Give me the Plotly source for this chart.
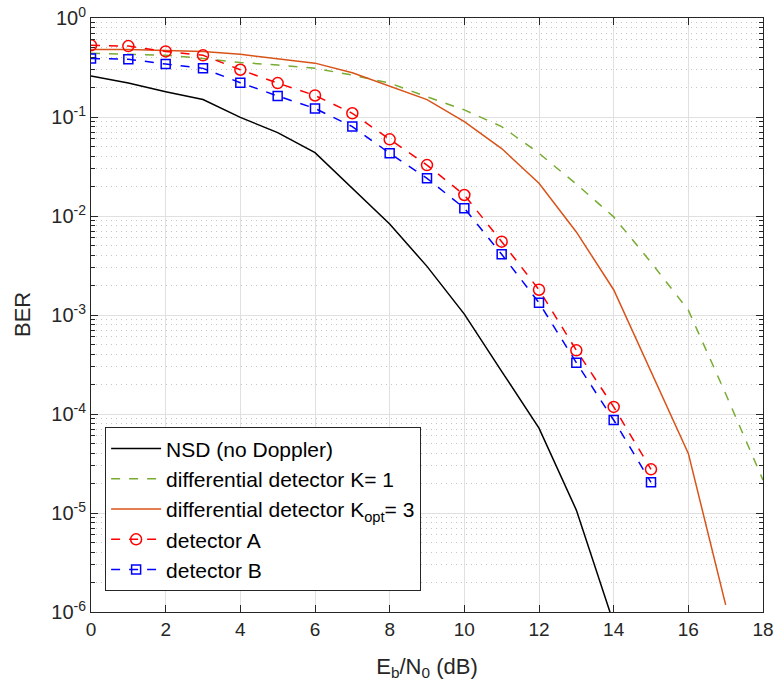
import plotly.graph_objects as go

x_nsd = [0, 1, 2, 3, 4, 5, 6, 7, 8, 9, 10, 11, 12, 13, 14]
ber_nsd = [0.26, 0.22, 0.18, 0.15, 0.099, 0.0695, 0.0436, 0.0188, 0.0083, 3.1e-3, 1.02e-3, 2.7e-4, 7.2e-5, 1.07e-5, 7.7e-7]

x_k1 = [0, 1, 2, 3, 4, 5, 6, 7, 8, 9, 10, 11, 12, 13, 14, 15, 16, 17, 18]
ber_k1 = [0.44, 0.43, 0.42, 0.39, 0.355, 0.335, 0.31, 0.265, 0.22, 0.16, 0.118, 0.08, 0.043, 0.021, 9.8e-3, 3.4e-3, 1.12e-3, 1.6e-4, 2.15e-5]

x_kopt = [0, 1, 2, 3, 4, 5, 6, 7, 8, 9, 10, 11, 12, 13, 14, 15, 16, 17]
ber_kopt = [0.48, 0.48, 0.47, 0.46, 0.43, 0.39, 0.35, 0.28, 0.205, 0.15, 0.09, 0.048, 0.0214, 6.9e-3, 1.8e-3, 2.7e-4, 4.0e-5, 1.18e-6]

x_det = [0, 1, 2, 3, 4, 5, 6, 7, 8, 9, 10, 11, 12, 13, 14, 15]
ber_a = [0.53, 0.52, 0.46, 0.42, 0.30, 0.22, 0.165, 0.109, 0.0595, 0.0327, 0.0163, 5.5e-3, 1.8e-3, 4.4e-4, 1.18e-4, 2.76e-5]
ber_b = [0.39, 0.383, 0.343, 0.31, 0.222, 0.163, 0.122, 0.08, 0.043, 0.024, 0.012, 4.1e-3, 1.33e-3, 3.3e-4, 8.7e-5, 2.04e-5]

y_tickvals = [1e-6, 1e-5, 1e-4, 1e-3, 1e-2, 1e-1, 1]
y_ticktext = ["10<sup>-6</sup>", "10<sup>-5</sup>", "10<sup>-4</sup>", "10<sup>-3</sup>",
              "10<sup>-2</sup>", "10<sup>-1</sup>", "10<sup>0</sup>"]
x_tickvals = [0, 2, 4, 6, 8, 10, 12, 14, 16, 18]

FONT = "Liberation Sans, Arial, sans-serif"
AX = "#262626"

fig = go.Figure()
fig.add_trace(go.Scatter(x=x_nsd, y=ber_nsd, mode="lines", name="NSD (no Doppler)",
                         line=dict(color="black", width=1.5)))
fig.add_trace(go.Scatter(x=x_k1, y=ber_k1, mode="lines", name="differential detector K= 1",
                         line=dict(color="#77AC30", width=1.5, dash="dash")))
fig.add_trace(go.Scatter(x=x_kopt, y=ber_kopt, mode="lines",
                         name="differential detector K<sub>opt</sub>= 3",
                         line=dict(color="#D95319", width=1.5)))
fig.add_trace(go.Scatter(x=x_det, y=ber_a, mode="lines+markers", name="detector A",
                         line=dict(color="#FF0000", width=1.5, dash="dash"),
                         marker=dict(symbol="circle-open", size=11, color="#FF0000",
                                     line=dict(width=1.5))))
fig.add_trace(go.Scatter(x=x_det, y=ber_b, mode="lines+markers", name="detector B",
                         line=dict(color="#0000FF", width=1.5, dash="dash"),
                         marker=dict(symbol="square-open", size=9, color="#0000FF",
                                     line=dict(width=1.5))))

fig.update_layout(
    width=779, height=695,
    margin=dict(l=91, r=16, t=18, b=83),
    paper_bgcolor="white", plot_bgcolor="white",
    font=dict(family=FONT, size=19, color=AX),
    showlegend=True,
    legend=dict(x=0.021, y=0.311, xanchor="left", yanchor="top",
                bgcolor="white", bordercolor=AX, borderwidth=1,
                font=dict(size=21, color="black"), itemwidth=50,
                tracegroupgap=0),
    xaxis=dict(range=[0, 18], tickvals=x_tickvals, showline=True, linecolor=AX,
               linewidth=1, mirror="ticks", ticks="inside", ticklen=7, tickcolor=AX,
               showgrid=True, gridcolor="#E0E0E0", gridwidth=1, zeroline=False,
               automargin=False, ticklabeloverflow="allow",
               tickfont=dict(size=19, color=AX),
               title=dict(text="E<sub>b</sub>/N<sub>0</sub> (dB)", font=dict(size=22, color=AX),
                          standoff=19)),
    yaxis=dict(type="log", range=[-6, 0], tickvals=y_tickvals, ticktext=y_ticktext,
               showline=True, linecolor=AX, linewidth=1, mirror="ticks",
               ticks="inside", ticklen=7, tickcolor=AX,
               showgrid=True, gridcolor="#E0E0E0", gridwidth=1, zeroline=False,
               automargin=False, ticklabeloverflow="allow",
               tickfont=dict(size=20, color=AX),
               minor=dict(dtick="D1", ticks="inside", ticklen=4, tickcolor=AX,
                          showgrid=True, gridcolor="#C4C4C4", griddash="1px,4px", gridwidth=1),
               title=dict(text="")),
    annotations=[dict(text="BER", textangle=-90, xref="paper", yref="paper",
                      x=(22 - 91) / 672, y=0.5, xanchor="center", yanchor="middle",
                      showarrow=False, font=dict(size=22, color=AX))],
)

fig.write_html("out.html", config={"displayModeBar": False},
               post_script="document.body.style.margin='0';document.body.style.overflow='hidden';")
